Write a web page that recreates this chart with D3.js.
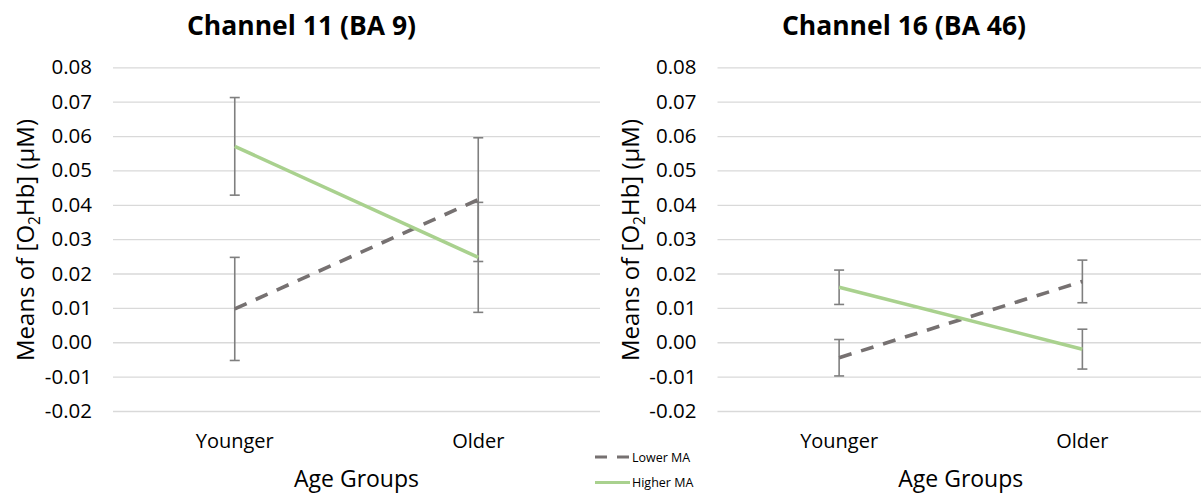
<!DOCTYPE html>
<html>
<head>
<meta charset="utf-8">
<script src="https://cdn.jsdelivr.net/npm/d3@7"></script>
<style>
  html, body { margin: 0; padding: 0; background: #ffffff; }
  svg { display: block; font-family: "Open Sans", "Liberation Sans", sans-serif; }
</style>
</head>
<body>
<svg id="chart" width="1201" height="494"></svg>
<script>
// Age groups on the x axis
const groups = ["Younger", "Older"];
// y axis ticks
const yTicks = [-0.02, -0.01, 0.00, 0.01, 0.02, 0.03, 0.04, 0.05, 0.06, 0.07, 0.08];

const seriesNames = ["Lower MA", "Higher MA"];

// Channel 11 (BA 9): means and error half-widths per age group
const ch11Lower = [0.0097, 0.0415];
const ch11LowerErr = [0.0150, 0.0180];
const ch11Higher = [0.0570, 0.0247];
const ch11HigherErr = [0.0142, 0.0160];

// Channel 16 (BA 46)
const ch16Lower = [-0.0045, 0.0177];
const ch16LowerErr = [0.0053, 0.0062];
const ch16Higher = [0.0160, -0.0020];
const ch16HigherErr = [0.0050, 0.0058];

const panels = [
  { title: "Channel 11 (BA 9)", x0: 113, x1: 600, titleX: 301.5,
    series: [
      { name: seriesNames[0], values: ch11Lower, err: ch11LowerErr },
      { name: seriesNames[1], values: ch11Higher, err: ch11HigherErr }
    ] },
  { title: "Channel 16 (BA 46)", x0: 717.5, x1: 1204, titleX: 904,
    series: [
      { name: seriesNames[0], values: ch16Lower, err: ch16LowerErr },
      { name: seriesNames[1], values: ch16Higher, err: ch16HigherErr }
    ] }
];

const styles = {
  "Lower MA": { color: "#767171", dash: "13,10" },
  "Higher MA": { color: "#a9d18e", dash: null }
};

const svg = d3.select("#chart");
const yTop = 67.3, yBottom = 411;
const y = d3.scaleLinear().domain([-0.02, 0.08]).range([yBottom, yTop]);
const fmt = d3.formatLocale({ decimal: ".", thousands: ",", grouping: [3], currency: ["", ""], minus: "-" }).format(".2f");

panels.forEach(p => {
  const g = svg.append("g");
  const x = d3.scaleBand().domain(groups).range([p.x0, p.x1]);
  const cx = d => x(d) + x.bandwidth() / 2;
  const w = p.x1 - p.x0;

  // Horizontal gridlines with tick labels
  const yAxis = g.append("g")
    .attr("transform", `translate(${p.x0},0)`)
    .call(d3.axisLeft(y).tickValues(yTicks).tickFormat(fmt)
      .tickSizeInner(-w).tickSizeOuter(0).tickPadding(21));
  yAxis.select(".domain").remove();
  yAxis.selectAll(".tick line").attr("stroke", "#d9d9d9").attr("stroke-width", 1.3);
  yAxis.selectAll(".tick text")
    .attr("fill", "#000").attr("font-size", 20.5).attr("font-family", "Open Sans");

  // Category labels
  const xAxis = g.append("g")
    .attr("transform", `translate(0,${yBottom})`)
    .call(d3.axisBottom(x).tickSize(0).tickPadding(0));
  xAxis.select(".domain").remove();
  xAxis.selectAll(".tick text")
    .attr("dy", null).attr("y", 37)
    .attr("fill", "#000").attr("font-size", 20).attr("font-family", "Open Sans");

  // Panel title
  g.append("text")
    .attr("x", p.titleX).attr("y", 35)
    .attr("text-anchor", "middle")
    .attr("font-size", 26.5).attr("font-weight", "bold")
    .text(p.title);

  // x axis title
  g.append("text")
    .attr("x", (p.x0 + p.x1) / 2).attr("y", 487)
    .attr("text-anchor", "middle")
    .attr("font-size", 23)
    .text("Age Groups");

  // y axis title with subscript
  const yt = g.append("text")
    .attr("transform", `translate(${p.x0 - 79},240) rotate(-90)`)
    .attr("text-anchor", "middle")
    .attr("font-size", 24);
  yt.append("tspan").text("Means of [O");
  yt.append("tspan").attr("font-size", 15.5).attr("dy", 6).text("2");
  yt.append("tspan").attr("dy", -6).text("Hb] (μM)");

  // Error bars
  p.series.forEach(s => {
    const eb = g.append("g");
    groups.forEach((grp, i) => {
      const xc = cx(grp);
      const lo = y(s.values[i] - s.err[i]);
      const hi = y(s.values[i] + s.err[i]);
      eb.append("line").attr("x1", xc).attr("x2", xc).attr("y1", lo).attr("y2", hi)
        .attr("stroke", "#7f7f7f").attr("stroke-width", 1.6);
      [lo, hi].forEach(yy => {
        eb.append("line").attr("x1", xc - 5).attr("x2", xc + 5).attr("y1", yy).attr("y2", yy)
          .attr("stroke", "#7f7f7f").attr("stroke-width", 1.6);
      });
    });
  });

  // Series lines
  const line = d3.line().x((d, i) => cx(groups[i])).y(d => y(d));
  p.series.forEach(s => {
    g.append("path")
      .datum(s.values)
      .attr("d", line)
      .attr("fill", "none")
      .attr("stroke", styles[s.name].color)
      .attr("stroke-width", 3.6)
      .attr("stroke-dasharray", styles[s.name].dash);
  });
});

// Legend
const legend = svg.append("g");
seriesNames.forEach((name, i) => {
  const ly = 457 + i * 25.5;
  legend.append("line")
    .attr("x1", 595).attr("x2", 630).attr("y1", ly).attr("y2", ly)
    .attr("stroke", styles[name].color).attr("stroke-width", 3)
    .attr("stroke-dasharray", name === "Lower MA" ? "12,10" : null);
  legend.append("text")
    .attr("x", 632).attr("y", ly + 4.5)
    .attr("font-size", 12.5)
    .text(name);
});
</script>
</body>
</html>
